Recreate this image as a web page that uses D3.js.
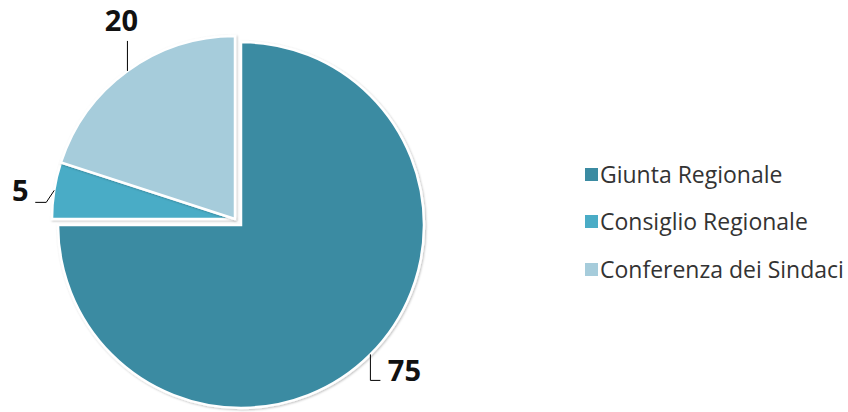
<!DOCTYPE html>
<html>
<head>
<meta charset="utf-8">
<script src="https://cdn.jsdelivr.net/npm/d3@7"></script>
<style>
  html, body { margin: 0; padding: 0; background: #fff; }
  svg { display: block; }
</style>
</head>
<body>
<svg id="chart" width="848" height="412"></svg>
<script>
const categories = ["Giunta Regionale", "Consiglio Regionale", "Conferenza dei Sindaci"];
const values = [75, 5, 20];
const colors = ["#3B8BA2", "#4AACC6", "#A6CCDB"];

const svg = d3.select("#chart");
const W = 848, H = 412;
const cx = 241, cy = 225, R = 183;
const explode = [[0, 0], [-6, -6], [-6, -6]];

const pie = d3.pie().sort(null).value(d => d.value).startAngle(0).endAngle(2 * Math.PI);
const data = categories.map((c, i) => ({ name: c, value: values[i], color: colors[i], idx: i }));
const arcs = pie(data);
const arc = d3.arc().innerRadius(0).outerRadius(R);

const g = svg.append("g");
// soft shadow
const defs = svg.append("defs");
const f = defs.append("filter").attr("id", "sh").attr("x", "-10%").attr("y", "-10%").attr("width", "120%").attr("height", "120%");
f.append("feDropShadow").attr("dx", 1).attr("dy", 1).attr("stdDeviation", 1.2).attr("flood-color", "#000").attr("flood-opacity", 0.25);

g.selectAll("path.slice").data(arcs).join("path")
  .attr("class", "slice")
  .attr("transform", d => `translate(${cx + explode[d.data.idx][0]},${cy + explode[d.data.idx][1]})`)
  .attr("d", arc)
  .attr("fill", d => d.data.color)
  .attr("stroke", "#fff")
  .attr("stroke-width", 2.5)
  .attr("stroke-linejoin", "miter")
  .attr("filter", "url(#sh)");

// labels with leader lines
const leader = [
  { path: [[0, 0], [0, 26], [10, 26]], text: [34, 27], anchor: "middle" },      // 75
  { path: [[0, 0], [-8, 12], [-19, 12]], text: [-34, 11], anchor: "middle" },   // 5
  { path: [[0, 0], [0, -30]], text: [-6, -40], anchor: "middle" }               // 20
];
arcs.forEach(d => {
  const i = d.data.idx;
  const mid = (d.startAngle + d.endAngle) / 2;
  const ox = cx + explode[i][0], oy = cy + explode[i][1];
  const ax = ox + R * Math.sin(mid), ay = oy - R * Math.cos(mid);
  const L = leader[i];
  svg.append("path")
    .attr("d", d3.line()(L.path.map(p => [ax + p[0], ay + p[1]])))
    .attr("fill", "none").attr("stroke", "#000").attr("stroke-width", 1);
  svg.append("text")
    .attr("x", ax + L.text[0]).attr("y", ay + L.text[1])
    .attr("text-anchor", L.anchor)
    .attr("font-family", "'Open Sans', sans-serif")
    .attr("font-weight", 700)
    .attr("font-size", 29)
    .attr("fill", "#111")
    .text(d.data.value);
});

// legend
const lg = svg.append("g").attr("transform", "translate(585,0)");
const rowsY = [175, 222, 270];
const items = lg.selectAll("g.item").data(data).join("g").attr("class", "item")
  .attr("transform", (d, i) => `translate(0,${rowsY[i]})`);
items.append("rect").attr("x", 0).attr("y", -7).attr("width", 13).attr("height", 13).attr("fill", d => d.color);
const txt = items.append("text").attr("x", 15).attr("y", 0).attr("dy", "0.35em")
  .attr("font-family", "'Open Sans', sans-serif")
  .attr("font-size", 22)
  .attr("fill", "#333")
  .text(d => d.name);
// fit longest label to target width
const target = 244;
let maxW = 0;
txt.each(function () { maxW = Math.max(maxW, this.getComputedTextLength()); });
const fs = 22 * target / maxW;
txt.attr("font-size", fs);
</script>
</body>
</html>
